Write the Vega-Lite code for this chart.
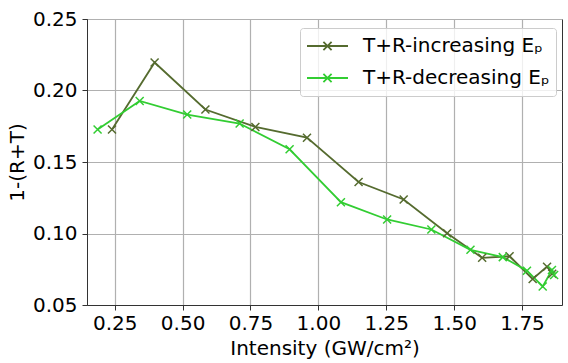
{
  "$schema": "https://vega.github.io/schema/vega-lite/v6.json",
  "width": 475,
  "height": 286,
  "autosize": {"type": "none"},
  "padding": {"left": 87, "top": 19, "right": 6, "bottom": 58},
  "background": "white",
  "config": {
    "font": "DejaVu Sans",
    "view": {"stroke": "#333333", "strokeWidth": 1},
    "axis": {
      "labelFont": "DejaVu Sans",
      "titleFont": "DejaVu Sans",
      "labelFontSize": 20,
      "titleFontSize": 20,
      "labelColor": "#000000",
      "titleColor": "#000000",
      "titleFontWeight": "normal",
      "domainColor": "#333333",
      "tickColor": "#333333",
      "tickSize": 5,
      "gridColor": "#b0b0b0",
      "gridWidth": 1.2
    }
  },
  "data": {
    "values": [
      {"s": "T+R-increasing Eₚ", "x": 0.240, "y": 0.1727},
      {"s": "T+R-increasing Eₚ", "x": 0.397, "y": 0.2196},
      {"s": "T+R-increasing Eₚ", "x": 0.584, "y": 0.1867},
      {"s": "T+R-increasing Eₚ", "x": 0.768, "y": 0.1745},
      {"s": "T+R-increasing Eₚ", "x": 0.958, "y": 0.1670},
      {"s": "T+R-increasing Eₚ", "x": 1.148, "y": 0.1360},
      {"s": "T+R-increasing Eₚ", "x": 1.314, "y": 0.1238},
      {"s": "T+R-increasing Eₚ", "x": 1.474, "y": 0.1002},
      {"s": "T+R-increasing Eₚ", "x": 1.603, "y": 0.0830},
      {"s": "T+R-increasing Eₚ", "x": 1.704, "y": 0.0841},
      {"s": "T+R-increasing Eₚ", "x": 1.789, "y": 0.0682},
      {"s": "T+R-increasing Eₚ", "x": 1.842, "y": 0.0768},
      {"s": "T+R-increasing Eₚ", "x": 1.861, "y": 0.0718},
      {"s": "T+R-decreasing Eₚ", "x": 0.187, "y": 0.1727},
      {"s": "T+R-decreasing Eₚ", "x": 0.342, "y": 0.1927},
      {"s": "T+R-decreasing Eₚ", "x": 0.517, "y": 0.1832},
      {"s": "T+R-decreasing Eₚ", "x": 0.710, "y": 0.1769},
      {"s": "T+R-decreasing Eₚ", "x": 0.894, "y": 0.1589},
      {"s": "T+R-decreasing Eₚ", "x": 1.083, "y": 0.1219},
      {"s": "T+R-decreasing Eₚ", "x": 1.253, "y": 0.1098},
      {"s": "T+R-decreasing Eₚ", "x": 1.416, "y": 0.1028},
      {"s": "T+R-decreasing Eₚ", "x": 1.560, "y": 0.0886},
      {"s": "T+R-decreasing Eₚ", "x": 1.679, "y": 0.0835},
      {"s": "T+R-decreasing Eₚ", "x": 1.768, "y": 0.0740},
      {"s": "T+R-decreasing Eₚ", "x": 1.826, "y": 0.0630},
      {"s": "T+R-decreasing Eₚ", "x": 1.860, "y": 0.0745},
      {"s": "T+R-decreasing Eₚ", "x": 1.868, "y": 0.0710}
    ]
  },
  "encoding": {
    "x": {
      "field": "x", "type": "quantitative",
      "scale": {"domain": [0.148, 1.897], "nice": false, "zero": false},
      "axis": {"values": [0.25, 0.5, 0.75, 1.0, 1.25, 1.5, 1.75], "format": ".2f", "labelPadding": 3, "titlePadding": 5, "title": "Intensity (GW/cm²)"}
    },
    "y": {
      "field": "y", "type": "quantitative",
      "scale": {"domain": [0.05, 0.25], "nice": false, "zero": false},
      "axis": {"values": [0.05, 0.1, 0.15, 0.2, 0.25], "format": ".2f", "labelPadding": 5, "titlePadding": 5, "title": "1-(R+T)"}
    },
    "color": {
      "field": "s", "type": "nominal",
      "scale": {"domain": ["T+R-increasing Eₚ", "T+R-decreasing Eₚ"], "range": ["#556b2f", "#32cd32"]},
      "legend": {
        "title": null,
        "orient": "none",
        "legendX": 213,
        "legendY": 9,
        "symbolType": "M-1,0H1M-0.2,-0.2L0.2,0.2M-0.2,0.2L0.2,-0.2",
        "symbolSize": 1681,
        "symbolStrokeWidth": 1.8,
        "symbolFillColor": "transparent",
        "clipHeight": 24,
        "rowPadding": 8,
        "labelFontSize": 20,
        "labelFont": "DejaVu Sans",
        "labelColor": "#000000",
        "labelLimit": 0,
        "labelOffset": 14,
        "padding": 6,
        "fillColor": "rgba(255,255,255,0.8)",
        "strokeColor": "#cccccc",
        "cornerRadius": 3
      }
    }
  },
  "layer": [
    {"mark": {"type": "line", "strokeWidth": 1.8}},
    {"mark": {"type": "point", "shape": "M-1,-1L1,1M-1,1L1,-1", "size": 64, "filled": false, "strokeWidth": 1.5, "opacity": 1}}
  ]
}
